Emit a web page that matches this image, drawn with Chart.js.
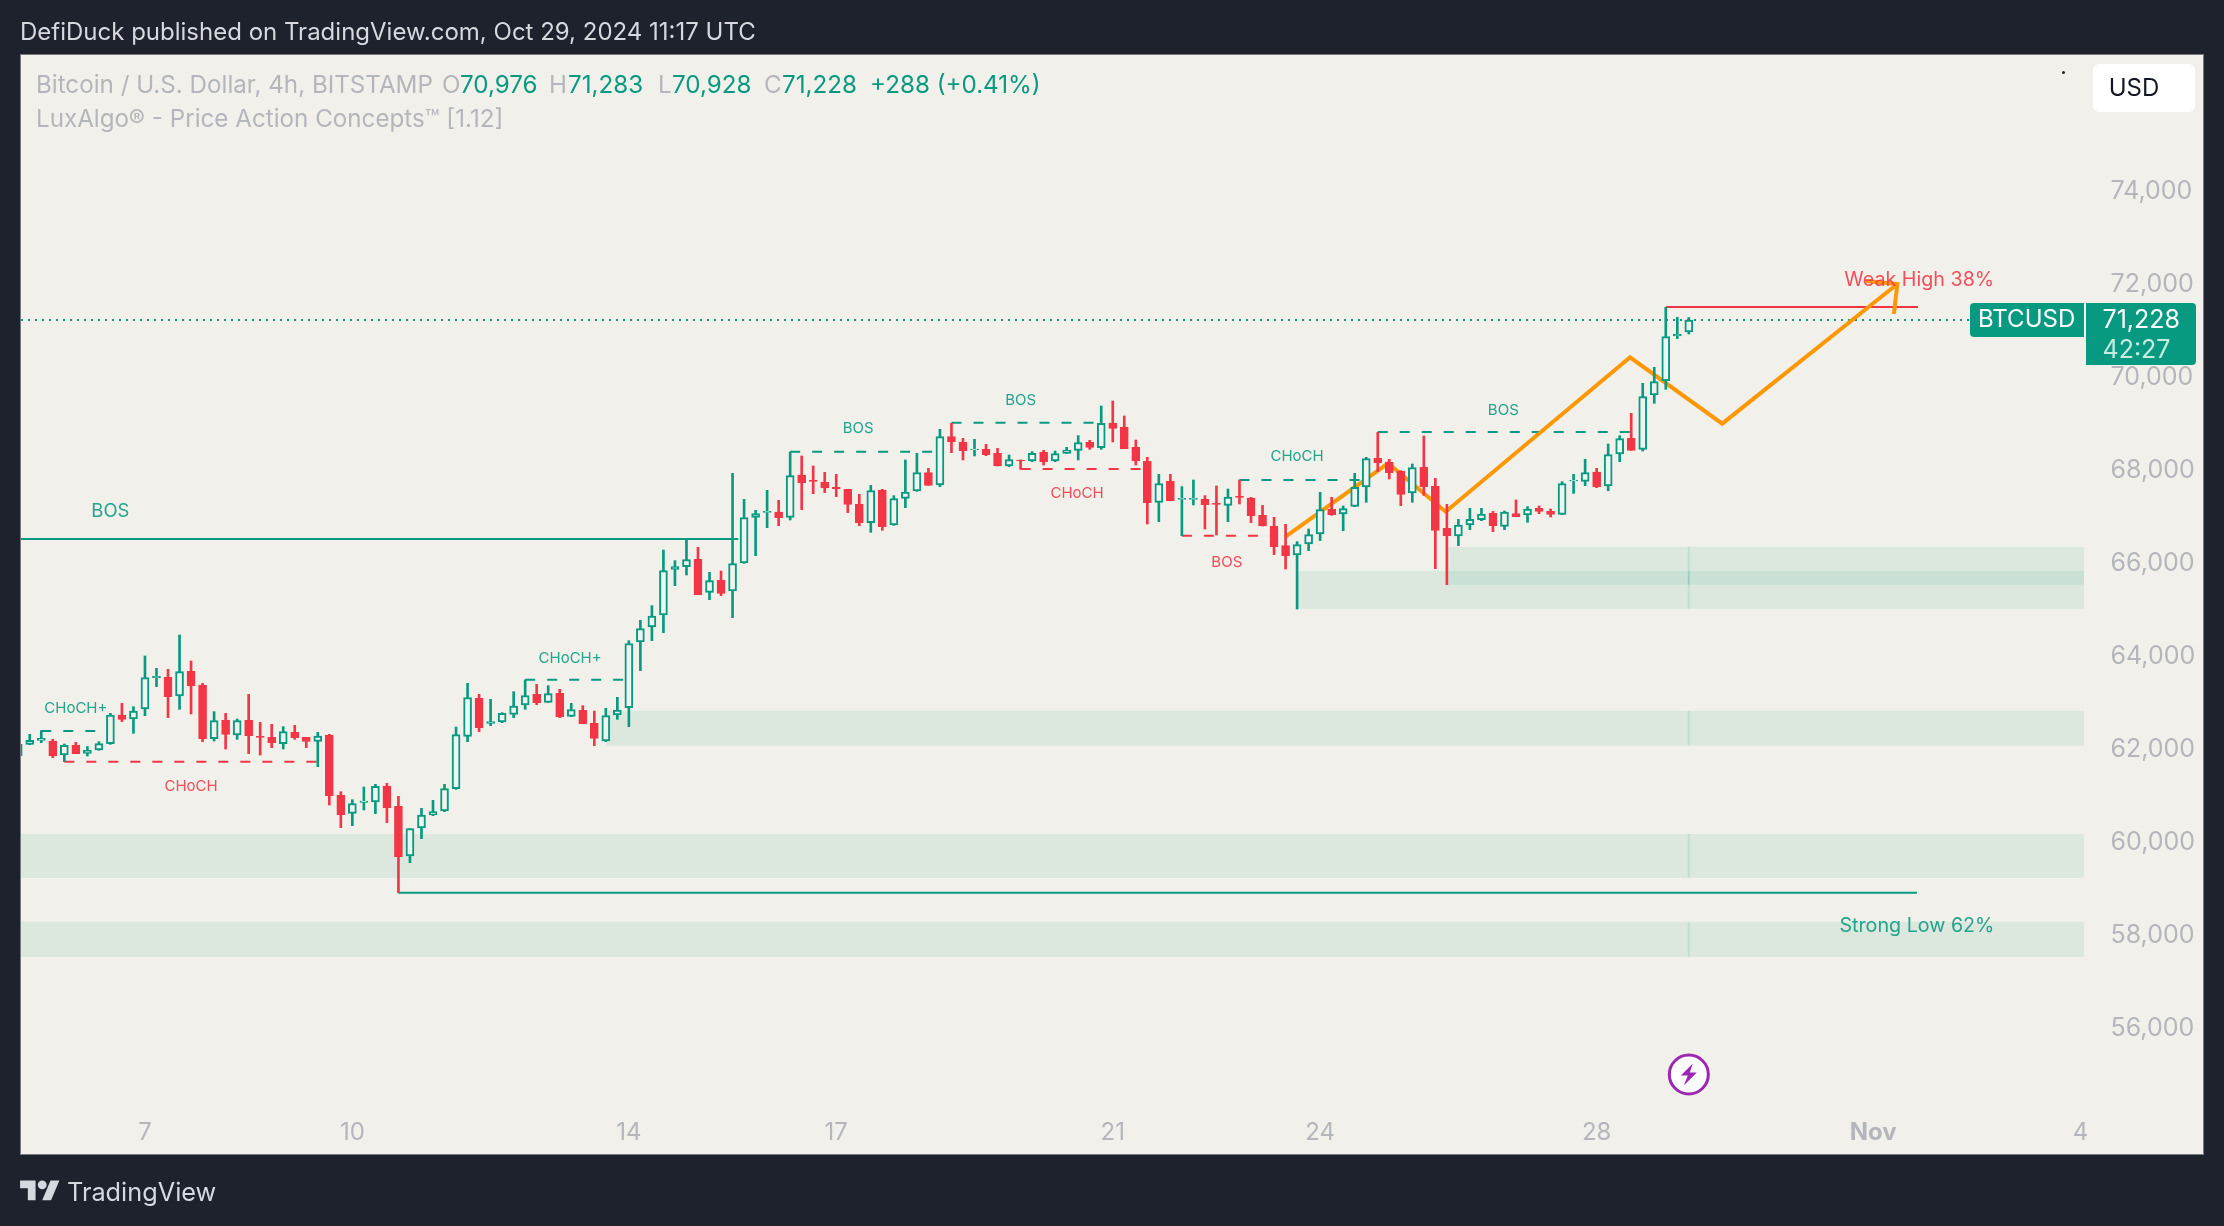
<!DOCTYPE html>
<html><head><meta charset="utf-8">
<script src="https://cdn.jsdelivr.net/npm/chart.js@4"></script>
<style>
html,body{margin:0;padding:0;background:#1e222d;width:2224px;height:1226px;overflow:hidden;font-family:Inter,"Noto Sans",sans-serif}
#panel{position:absolute;left:20px;top:54px;width:2184px;height:1101px;background:#f1f0ea;box-shadow:0 0 0 1px #777a82 inset}
canvas{position:absolute;left:0;top:0}
.t{position:absolute;white-space:nowrap;line-height:1}
.g{color:#b4b6bb}.v{color:#089981}
.l{top:73px;font-size:24.2px}
</style></head><body>
<div id="panel"></div>
<canvas id="c" width="2224" height="1226"></canvas>
<div class="t" style="left:20px;top:20px;font-size:24px;color:#d6d8de" id="hd">DefiDuck published on TradingView.com, Oct 29, 2024 11:17 UTC</div>
<div class="t g l" style="left:36px">Bitcoin / U.S. Dollar, 4h, BITSTAMP</div>
<div class="t g l" style="left:442px">O</div><div class="t v l" style="left:460px">70,976</div>
<div class="t g l" style="left:549px">H</div><div class="t v l" style="left:568px">71,283</div>
<div class="t g l" style="left:658px">L</div><div class="t v l" style="left:672px">70,928</div>
<div class="t g l" style="left:764px">C</div><div class="t v l" style="left:782px">71,228</div>
<div class="t v l" style="left:870px">+288 (+0.41%)</div>
<div class="t g" style="left:36px;top:107px;font-size:24.2px">LuxAlgo® - Price Action Concepts™ [1.12]</div>
<div style="position:absolute;left:2093px;top:64px;width:102px;height:48px;background:#fff;border-radius:6px"></div>
<div class="t" style="left:2093px;width:82px;text-align:center;top:76px;font-size:24px;color:#131722">USD</div>
<div style="position:absolute;left:2062px;top:71px;width:3px;height:3px;background:#222;border-radius:2px"></div>
<svg style="position:absolute;left:20px;top:1176px" width="40" height="31" viewBox="0 0 36 28"><path fill="#d6d8e0" d="M14 22H7V11H0V4h14v18zM28 22h-8l7.5-18h8L28 22z"/><circle fill="#d6d8e0" cx="20" cy="8" r="4"/></svg>
<div class="t" style="left:67px;top:1179px;font-size:25.3px;color:#d6d8e0">TradingView</div>
<script>
// ---- candle data (4h BTCUSD), first candle index relative to the "7" tick ----
const firstIndex = -11;
const opens = [61863,62107,62193,62178,61877,62092,61913,61985,62121,62737,62651,62866,63540,63547,63146,63676,63382,62229,62623,62307,62623,62279,62257,62121,62365,62257,62171,62307,61010,60623,60860,60867,61211,60774,59706,60308,60587,60673,61154,62279,63096,62558,62587,62752,62952,63182,63010,63203,62709,62838,62558,62178,62737,62895,64307,64629,64887,65869,65927,66084,65375,65633,65403,66005,66987,67095,67102,66987,67897,67783,67740,67632,67589,67267,66873,67575,66822,67396,67553,67948,67682,68722,68600,68442,68449,68363,68091,68220,68198,68385,68198,68363,68428,68600,68485,69015,68929,68492,68191,67310,67761,67374,67374,67374,67288,67245,67439,67403,67030,66801,66378,66177,66414,66629,67159,67059,67224,67639,68256,68170,67983,67510,68062,67654,66751,66586,66822,66937,67073,66794,67066,67037,67181,67116,67052,67768,67761,67962,67661,68349,68686,68449,69617,69926,70886,70976];
const highs = [62130,62322,62401,62214,62114,62150,62057,62164,62773,62988,62917,64006,63741,63719,64457,63898,63418,62809,62773,62651,63182,62580,62537,62487,62515,62257,62365,62322,61089,60917,61189,61247,61268,60989,60293,60731,60903,61247,62479,63418,63182,63074,62787,63239,63490,63397,63368,63289,62988,62938,62823,62881,63117,64335,64773,65088,66285,66056,66514,66342,65805,65833,67933,67374,67138,67568,67353,68392,68306,68091,67955,67912,67589,67482,67675,67589,67453,68220,68363,68041,68879,69008,68686,68664,68557,68471,68327,68220,68399,68428,68413,68492,68743,68643,69381,69488,69166,68650,68277,67912,67912,67647,67790,67453,67661,67596,67790,67417,67245,66987,66837,66464,66736,67525,67417,67231,67933,68277,68815,68234,67991,68134,68736,67826,67267,66944,67181,67181,67116,67123,67360,67217,67231,67166,67754,67912,68234,68041,68564,68743,69223,69868,70212,71502,71287,71283];
const lows = [61840,62100,62143,61820,61734,61906,61856,61978,62107,62594,62343,62723,63347,62680,62859,62759,62164,62178,62006,62214,61906,61877,62035,62006,62214,62035,61626,60802,60315,60358,60695,60616,60422,58917,59562,60078,60573,60659,61139,62164,62379,62508,62573,62680,62859,62959,63010,62680,62701,62551,62078,62164,62644,62486,63690,64335,64507,65518,65747,65325,65217,65303,64830,65998,66163,66765,66808,66930,67152,67496,67518,67432,67088,66808,66665,66708,66815,67195,67546,67675,67647,68378,68220,68306,68313,68091,68077,68019,68184,68112,68184,68363,68220,68449,68449,68607,68464,68112,66844,66894,67346,66593,67252,66736,66607,66894,67274,66873,66801,66184,65876,65016,66270,66486,67030,66700,67217,67310,67969,67811,67238,67310,67460,65884,65540,66378,66722,66915,66679,66722,67002,66880,67066,66994,67045,67503,67668,67625,67561,68184,68428,68413,69438,69739,70829,70928];
const closes = [62107,62193,62236,61856,62085,61906,61978,62121,62737,62644,62823,63540,63569,63132,63669,63368,62229,62616,62322,62616,62293,62257,62143,62379,62250,62171,62286,61003,60594,60831,60888,61204,60745,59691,60293,60587,60659,61154,62315,63110,62465,62594,62773,62931,63153,63002,63196,62701,62852,62551,62236,62723,62845,64271,64594,64866,65841,65927,66077,65325,65626,65353,65991,66980,67066,67116,66980,67883,67733,67761,67618,67604,67267,66873,67561,66787,67389,67532,67948,67675,68722,68607,68421,68456,68335,68091,68227,68198,68363,68177,68356,68435,68593,68492,69008,68901,68464,68198,67303,67711,67346,67396,67396,67260,67267,67424,67417,67023,66801,66356,66163,66399,66615,67152,67045,67174,67632,68249,68163,67948,67482,68055,67647,66708,66593,66822,66944,67059,66808,67102,67002,67166,67116,67052,67711,67783,67948,67639,68335,68679,68428,69582,69904,70872,70929,71228];
// ---- axes ----
const xTickIndex = [0,18,42,60,84,102,126,150,168];
const xTickLabels = ['7','10','14','17','21','24','28','Nov','4'];
const yTicks = [56000,58000,60000,62000,64000,66000,68000,70000,72000,74000];
const xMin = -10.76, xMax = 168.3, yMin = 54331, yMax = 76927;
// ---- demand zones ----
const zoneTop = [66356,65840,62830,60179,58294];
const zoneBottom = [65539,65023,62077,59240,57535];
const zoneStart = [113,100,40,xMin,xMin];
const lastIndex = 134;
// ---- structure lines: start index, end index, price ----
const solidGreen = [[xMin,51.5,66521],[22,153.8,58917]];
const solidRed = [[132,153.9,71509]];
const dashGreen = [[-9,-3,62393],[33,42,63497],[56,69,68395],[70,83,69023],[95,106,67790],[107,130,68822]];
const dashRed = [[-7,15,61734],[76,87,68026],[90,98,66593]];
const lastClose = 71228;
// ---- hand-drawn arrow ----
const arrowPathX = [99,107.9,112.9,128.9,136.9,152.1];
const arrowPathY = [66572,68148,67109,70427,69001,72004];
const arrowHeadX = [149.4,152.1,151.8];
const arrowHeadY = [72068,72004,71359];
// ---- text annotations ----
const noteText = ['BOS','CHoCH+','CHoCH','CHoCH+','BOS','BOS','CHoCH','CHoCH','BOS','BOS','Weak High 38%','Strong Low 62%'];
const noteX = [-3,-6,4,36.9,61.9,76,80.9,100,93.9,117.9,154,153.8];
const noteY = [67106,62880,61202,63955,68900,69502,67490,68297,66018,69278,72095,58205];
const noteKind = ['g','g','r','g','g','g','r','g','r','g','r','g'];
const noteSize = [18.5,15,15,15,15,15,15,15,15,15,19.7,19.7];

const GREEN='#089981', RED='#f23645', HOLLOW='#ecf5ef', ZONE='rgba(10,160,110,0.09)', ORANGE='#ff9800';
const idx = opens.map((_,k)=>firstIndex+k);
const isUp = k=>closes[k]>=opens[k];
const lineDs = (pts,color,extra)=>Object.assign({type:'line',data:pts,borderColor:color,backgroundColor:color,pointRadius:0,borderWidth:2,fill:false,tension:0,order:8},extra||{});
const datasets=[];
zoneTop.forEach((t,k)=>{
  datasets.push(lineDs([{x:zoneStart[k],y:t},{x:xMax,y:t}],'rgba(0,0,0,0)',{borderWidth:0,backgroundColor:ZONE,fill:{value:zoneBottom[k]},order:12}));
  datasets.push(lineDs([{x:lastIndex,y:t},{x:lastIndex,y:zoneBottom[k]}],'rgba(8,153,129,0.12)',{borderWidth:2,order:11}));
});
solidGreen.forEach(s=>datasets.push(lineDs([{x:s[0],y:s[2]},{x:s[1],y:s[2]}],GREEN)));
solidRed.forEach(s=>datasets.push(lineDs([{x:s[0],y:s[2]},{x:s[1],y:s[2]}],RED)));
dashGreen.forEach(s=>datasets.push(lineDs([{x:s[0],y:s[2]},{x:s[1],y:s[2]}],GREEN,{borderDash:[10,12]})));
dashRed.forEach(s=>datasets.push(lineDs([{x:s[0],y:s[2]},{x:s[1],y:s[2]}],RED,{borderDash:[10,12]})));
datasets.push(lineDs([{x:xMin,y:lastClose},{x:xMax,y:lastClose}],GREEN,{borderDash:[2,5],borderWidth:2}));
datasets.push(lineDs(arrowPathX.map((x,k)=>({x,y:arrowPathY[k]})),ORANGE,{borderWidth:4,order:7}));
datasets.push(lineDs(arrowHeadX.map((x,k)=>({x,y:arrowHeadY[k]})),ORANGE,{borderWidth:4,order:7}));
datasets.push({type:'bar',order:5,grouped:false,barThickness:2,data:idx.map((x,k)=>({x,y:[lows[k],highs[k]]})),backgroundColor:idx.map((_,k)=>isUp(k)?GREEN:RED),borderWidth:0});
datasets.push({type:'bar',order:4,grouped:false,barThickness:8,borderSkipped:false,borderWidth:2,data:idx.map((x,k)=>({x,y:[opens[k],closes[k]]})),backgroundColor:idx.map((_,k)=>isUp(k)?HOLLOW:RED),borderColor:idx.map((_,k)=>isUp(k)?GREEN:RED)});

const overlay={id:'overlay',afterDraw(ch){
  const c=ch.ctx,X=ch.scales.x,Y=ch.scales.y;
  c.save();
  c.textAlign='center';c.textBaseline='middle';
  noteText.forEach((t,k)=>{c.font=noteSize[k]+'px Inter';c.fillStyle=noteKind[k]==='g'?GREEN:RED;c.globalAlpha=.88;c.fillText(t,X.getPixelForValue(noteX[k]),Y.getPixelForValue(noteY[k]));});
  c.globalAlpha=1;
  // price tags
  const py=Y.getPixelForValue(lastClose);
  c.fillStyle=GREEN;
  c.beginPath();c.roundRect(1970,py-17,114,34,[4,0,0,4]);c.fill();
  c.beginPath();c.roundRect(2086,py-17,110,62,[0,4,4,0]);c.fill();
  c.fillStyle='#fff';c.textAlign='left';c.font='24px Inter';
  c.fillText('BTCUSD',1978,py);
  c.font='25px Inter';
  c.fillText('71,228',2102.5,py);
  c.fillStyle='#c6ece2';c.fillText('42:27',2102.5,py+30);
  // lightning marker
  const mx=X.getPixelForValue(lastIndex),my=1074.5;
  c.beginPath();c.arc(mx,my,19.5,0,7);c.fillStyle='#fff';c.fill();c.strokeStyle='#9c27b0';c.lineWidth=3;c.stroke();
  c.fillStyle='#9c27b0';c.beginPath();
  c.moveTo(mx+4,my-11);c.lineTo(mx-8,my+1);c.lineTo(mx-1,my+1);c.lineTo(mx-5,my+11);c.lineTo(mx+8,my-2);c.lineTo(mx+1,my-2);c.closePath();c.fill();
  c.restore();
}};

new Chart(document.getElementById('c'),{type:'bar',data:{datasets},plugins:[overlay],options:{
  responsive:false,animation:false,
  layout:{padding:{left:21,top:55,right:20,bottom:71}},
  plugins:{legend:{display:false},tooltip:{enabled:false}},
  scales:{
    x:{type:'linear',offset:false,min:xMin,max:xMax,grid:{display:false},border:{display:false},
      afterFit(s){s.height=49;},
      afterBuildTicks(s){s.ticks=xTickIndex.map(v=>({value:v}));},
      ticks:{autoSkip:false,maxRotation:0,padding:4,color:'#b4b6bb',
        font:(ctx)=>({family:'Inter',size:24,weight:ctx.index===7?'700':'400'}),
        callback:(v)=>xTickLabels[xTickIndex.indexOf(v)]}},
    y:{type:'linear',position:'right',min:yMin,max:yMax,grid:{display:false},border:{display:false},
      afterFit(s){s.width=120;},
      afterBuildTicks(s){s.ticks=yTicks.map(v=>({value:v}));},
      ticks:{padding:18.5,color:'#b4b6bb',font:{family:'Inter',size:25},
        callback:(v)=>v.toLocaleString('en-US')}}
  }
}});
</script>
</body></html>
